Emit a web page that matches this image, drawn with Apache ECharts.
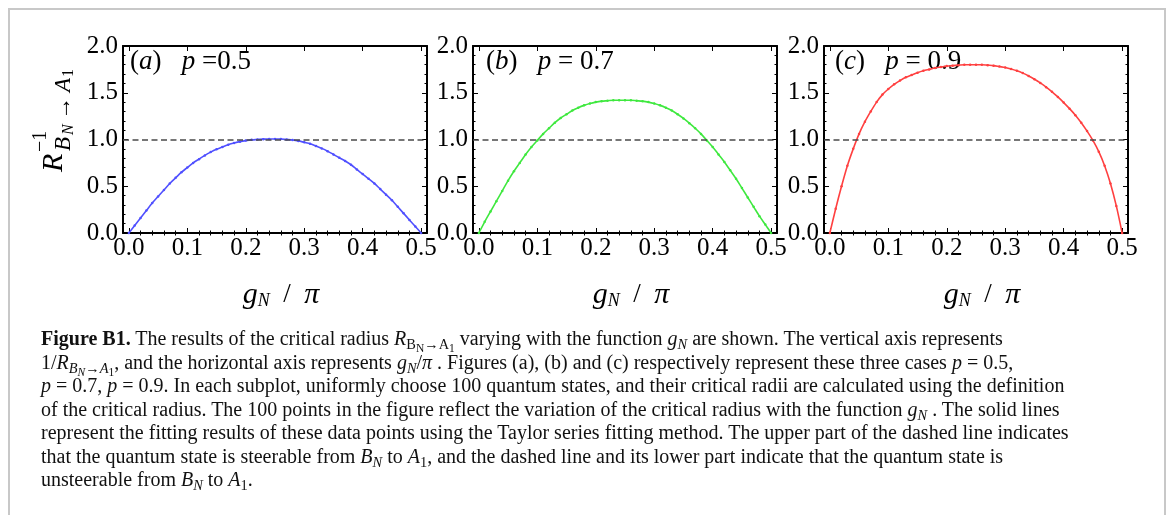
<!DOCTYPE html>
<html>
<head>
<meta charset="utf-8">
<script src="https://cdn.jsdelivr.net/npm/echarts@6/dist/echarts.min.js"></script>
<style>
  html, body { margin: 0; padding: 0; background: #fff; }
  #frame {
    position: absolute; left: 8px; top: 8px; width: 1158px; height: 530px;
    box-sizing: border-box; border: 2px solid #c8c8c8;
  }
  #chart { position: absolute; left: 0; top: 0; width: 1166px; height: 515px; }
  #cap {
    position: absolute; left: 41px; top: 327px;
    font-family: "Liberation Serif", serif; font-size: 20px; line-height: 23.5px;
    white-space: nowrap; color: #111;
  }
  #cap sub { font-size: 0.72em; line-height: 0; vertical-align: -0.28em; }
  #cap sub sub { font-size: 0.8em; }
</style>
</head>
<body>
<div id="frame"></div>
<div id="chart"></div>
<div id="cap">
<b>Figure B1.</b> The results of the critical radius <i>R</i><sub>B<sub>N</sub>&#8594;A<sub>1</sub></sub> varying with the function <i>g<sub>N</sub></i> are shown. The vertical axis represents<br>
1/<i>R</i><sub><i>B</i><sub><i>N</i></sub>&#8594;<i>A</i><sub>1</sub></sub>, and the horizontal axis represents <i>g<sub>N</sub></i>/<i>&#960;</i> . Figures (a), (b) and (c) respectively represent these three cases <i>p</i> = 0.5,<br>
<i>p</i> = 0.7, <i>p</i> = 0.9. In each subplot, uniformly choose 100 quantum states, and their critical radii are calculated using the definition<br>
of the critical radius. The 100 points in the figure reflect the variation of the critical radius with the function <i>g<sub>N</sub></i> . The solid lines<br>
represent the fitting results of these data points using the Taylor series fitting method. The upper part of the dashed line indicates<br>
that the quantum state is steerable from <i>B<sub>N</sub></i> to <i>A</i><sub>1</sub>, and the dashed line and its lower part indicate that the quantum state is<br>
unsteerable from <i>B<sub>N</sub></i> to <i>A</i><sub>1</sub>.
</div>
<script>
// g_N / pi sample positions
var gN = [0, 0.01, 0.02, 0.03, 0.04, 0.05, 0.06, 0.07, 0.08, 0.09,
  0.10, 0.11, 0.12, 0.13, 0.14, 0.15, 0.16, 0.17, 0.18, 0.19,
  0.20, 0.21, 0.22, 0.23, 0.24, 0.25, 0.26, 0.27, 0.28, 0.29,
  0.30, 0.31, 0.32, 0.33, 0.34, 0.35, 0.36, 0.37, 0.38, 0.39,
  0.40, 0.41, 0.42, 0.43, 0.44, 0.45, 0.46, 0.47, 0.48, 0.49, 0.50];

// 1/R for p = 0.5
var invR_a = [0, 0.08, 0.16, 0.24, 0.32, 0.39, 0.46, 0.53, 0.59, 0.65,
  0.70, 0.75, 0.79, 0.83, 0.865, 0.895, 0.92, 0.945, 0.962, 0.977,
  0.988, 0.996, 1.0, 1.004, 1.006, 1.006, 1.005, 1.0, 0.995, 0.985,
  0.97, 0.955, 0.93, 0.905, 0.875, 0.84, 0.805, 0.77, 0.73, 0.68,
  0.63, 0.58, 0.53, 0.47, 0.41, 0.35, 0.28, 0.21, 0.14, 0.07, 0];

// 1/R for p = 0.7
var invR_b = [0, 0.12, 0.23, 0.34, 0.45, 0.56, 0.66, 0.75, 0.84, 0.92,
  0.99, 1.06, 1.12, 1.18, 1.23, 1.27, 1.31, 1.34, 1.365, 1.385,
  1.40, 1.41, 1.415, 1.42, 1.42, 1.42, 1.42, 1.415, 1.41, 1.40,
  1.385, 1.365, 1.34, 1.31, 1.27, 1.225, 1.175, 1.12, 1.06, 0.99,
  0.92, 0.84, 0.76, 0.67, 0.58, 0.48, 0.38, 0.28, 0.18, 0.09, 0];

// 1/R for p = 0.9
var invR_c = [0, 0.26, 0.50, 0.72, 0.90, 1.06, 1.19, 1.30, 1.40, 1.48,
  1.54, 1.59, 1.63, 1.665, 1.69, 1.715, 1.735, 1.75, 1.765, 1.775,
  1.785, 1.79, 1.795, 1.80, 1.80, 1.80, 1.80, 1.795, 1.79, 1.78,
  1.77, 1.755, 1.735, 1.71, 1.68, 1.645, 1.605, 1.56, 1.51, 1.455,
  1.395, 1.33, 1.26, 1.18, 1.09, 0.99, 0.87, 0.72, 0.53, 0.29, 0];

var xMajor = [0, 0.1, 0.2, 0.3, 0.4, 0.5];
var xMinor = [0.02, 0.04, 0.06, 0.08, 0.12, 0.14, 0.16, 0.18, 0.22, 0.24, 0.26, 0.28,
  0.32, 0.34, 0.36, 0.38, 0.42, 0.44, 0.46, 0.48];

var panels = [
  { tag: "a", p: " =0.5", color: "#5050ff", data: invR_a, dx: 7 },
  { tag: "b", p: " = 0.7", color: "#3fe83f", data: invR_b, dx: 13 },
  { tag: "c", p: " = 0.9", color: "#ff4040", data: invR_c, dx: 11 }
];

var FONT = "Liberation Serif";
var gridLeft = [123, 473, 824];
var gridW = 304, gridTop = 46, gridH = 187;

var chart = echarts.init(document.getElementById("chart"));

var grids = [], xAxes = [], yAxes = [], series = [], graphic = [];

panels.forEach(function (pn, i) {
  grids.push({ left: gridLeft[i], top: gridTop, width: gridW, height: gridH });

  // bottom / top x axes, major + minor ticks
  ["bottom", "top"].forEach(function (pos) {
    xAxes.push({
      gridIndex: i, type: "value", min: -0.01, max: 0.51, position: pos,
      axisLine: { show: true, onZero: false, lineStyle: { color: "#000", width: 2 } },
      axisTick: { show: true, inside: true, length: 5, customValues: xMajor, lineStyle: { color: "#000" } },
      axisLabel: {
        show: pos === "bottom", customValues: xMajor, margin: 3,
        fontFamily: FONT, fontSize: 25, color: "#000",
        formatter: function (v) { return v.toFixed(1); }
      },
      splitLine: { show: false }
    });
    xAxes.push({
      gridIndex: i, type: "value", min: -0.01, max: 0.51, position: pos,
      axisLine: { show: false },
      axisTick: { show: true, inside: true, length: 2.5, customValues: xMinor, lineStyle: { color: "#000" } },
      axisLabel: { show: false },
      splitLine: { show: false }
    });
  });

  ["left", "right"].forEach(function (pos) {
    yAxes.push({
      gridIndex: i, type: "value", min: 0, max: 2, interval: 0.5, position: pos,
      axisLine: { show: true, onZero: false, lineStyle: { color: "#000", width: 2 } },
      axisTick: { show: true, inside: true, length: 5, lineStyle: { color: "#000" } },
      minorTick: { show: true, splitNumber: 5, length: 2.5, lineStyle: { color: "#000" } },
      axisLabel: {
        show: pos === "left", margin: 5,
        fontFamily: FONT, fontSize: 25, color: "#000",
        formatter: function (v) { return v.toFixed(1); }
      },
      splitLine: { show: false }
    });
  });

  series.push({
    type: "line",
    xAxisIndex: i * 4,
    yAxisIndex: i * 2,
    data: gN.map(function (x, k) { return [x, pn.data[k]]; }),
    smooth: 0.3,
    symbol: "circle",
    symbolSize: 2.5,
    showSymbol: true,
    itemStyle: { color: pn.color },
    lineStyle: { color: pn.color, width: 1.6 },
    markLine: {
      silent: true,
      symbol: ["none", "none"],
      label: { show: false },
      lineStyle: { color: "#4a4a4a", type: [6, 3.5], width: 1.5 },
      data: [{ yAxis: 1 }]
    }
  });

  // panel label, e.g. (a)  p =0.5
  graphic.push({
    type: "text", left: gridLeft[i] + pn.dx, top: 48,
    style: {
      text: "{n|(}{i|" + pn.tag + "}{n|)   }{i|p}{n|" + pn.p + "}",
      rich: {
        n: { fontFamily: FONT, fontSize: 27, fill: "#000" },
        i: { fontFamily: FONT, fontSize: 27, fontStyle: "italic", fill: "#000" }
      }
    }
  });

  // x axis name g_N / pi
  graphic.push({
    type: "text", x: gridLeft[i] + gridW / 2 + 6, y: 295,
    style: {
      text: "{g|g}{s|N}{n|  /  }{g|\u03c0}",
      align: "center", verticalAlign: "middle",
      rich: {
        g: { fontFamily: FONT, fontSize: 30, fontStyle: "italic", fill: "#000" },
        s: { fontFamily: FONT, fontSize: 18, fontStyle: "italic", fill: "#000", verticalAlign: "bottom" },
        n: { fontFamily: FONT, fontSize: 27, fill: "#000" }
      }
    }
  });
});

// y axis title R^{-1}_{B_N -> A_1}, rotated
function t(txt, x, y, size, italic) {
  return {
    type: "text", x: x, y: y,
    style: {
      text: txt, fontFamily: FONT, fontSize: size, fontStyle: italic ? "italic" : "normal",
      fill: "#000", align: "left", verticalAlign: "middle"
    }
  };
}
graphic.push({
  type: "group", x: 54, y: 172, rotation: Math.PI / 2,
  children: [
    t("R", 0, 0, 30, true),
    t("\u22121", 20, -13, 20, false),
    t("B", 21, 10, 23, true),
    t("N", 37, 15, 16, true),
    t("\u2192", 52, 10, 23, false),
    t("A", 80, 10, 23, true),
    t("1", 95, 15, 16, false)
  ]
});

chart.setOption({
  animation: false,
  backgroundColor: "transparent",
  grid: grids,
  xAxis: xAxes,
  yAxis: yAxes,
  series: series,
  graphic: graphic
});
</script>
</body>
</html>
